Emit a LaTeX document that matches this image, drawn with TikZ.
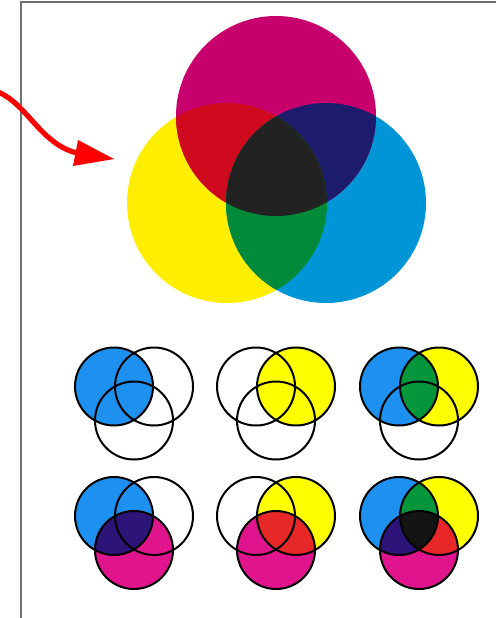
\documentclass[tikz,border=0pt]{standalone}
\definecolor{bM}{HTML}{C8006E}
\definecolor{bY}{HTML}{FFEE00}
\definecolor{bC}{HTML}{0095D6}
\definecolor{bR}{HTML}{D00A1E}
\definecolor{bB}{HTML}{1C1B6C}
\definecolor{bG}{HTML}{008A3A}
\definecolor{bK}{HTML}{222222}
\definecolor{sC}{HTML}{1E90F0}
\definecolor{sY}{HTML}{FFFF00}
\definecolor{sM}{HTML}{E0148C}
\definecolor{sG}{HTML}{05963C}
\definecolor{sB}{HTML}{2C1478}
\definecolor{sR}{HTML}{E82828}
\definecolor{sK}{HTML}{141414}
\definecolor{frame}{HTML}{707070}
\begin{document}
\begin{tikzpicture}[x=1pt,y=-1pt,
  ring/.style={draw=black,line width=2pt},
  framel/.style={draw=frame,line width=1.5pt}]
\useasboundingbox (0,0) rectangle (496,618);
% frame
\draw[framel] (496,2) -- (21,2) -- (21,618);
% big circles
\def\BM{(276,116) circle (100)}
\def\BY{(227,203) circle (100)}
\def\BC{(326,203) circle (100)}
\fill[bY] \BY;
\fill[bC] \BC;
\fill[bM] \BM;
\begin{scope}\clip \BM; \fill[bR] \BY; \fill[bB] \BC; \end{scope}
\begin{scope}\clip \BY; \fill[bG] \BC; \end{scope}
\begin{scope}\clip \BM; \clip \BY; \fill[bK] \BC; \end{scope}
% arrow
\draw[red,line width=5.2pt] (-2,92) .. controls (28,104) and (42,148) .. (82,154);
\fill[red] (78,140) -- (114,159) -- (73,166) -- cycle;
% small groups
\def\SL{(-20,0) circle (39)}
\def\SR{(20,0) circle (39)}
\def\SB{(0,34) circle (39)}
% row 1
\begin{scope}[shift={(134,386.5)}]
  \fill[sC] \SL;
  \draw[ring] \SL; \draw[ring] \SR; \draw[ring] \SB;
\end{scope}
\begin{scope}[shift={(276,386.5)}]
  \fill[sY] \SR;
  \draw[ring] \SL; \draw[ring] \SR; \draw[ring] \SB;
\end{scope}
\begin{scope}[shift={(419,386.5)}]
  \fill[sC] \SL; \fill[sY] \SR;
  \begin{scope}\clip \SL; \fill[sG] \SR; \end{scope}
  \draw[ring] \SL; \draw[ring] \SR; \draw[ring] \SB;
\end{scope}
% row 2
\begin{scope}[shift={(134,516)}]
  \fill[sC] \SL; \fill[sM] \SB;
  \begin{scope}\clip \SL; \fill[sB] \SB; \end{scope}
  \draw[ring] \SL; \draw[ring] \SR; \draw[ring] \SB;
\end{scope}
\begin{scope}[shift={(276,516)}]
  \fill[sY] \SR; \fill[sM] \SB;
  \begin{scope}\clip \SR; \fill[sR] \SB; \end{scope}
  \draw[ring] \SL; \draw[ring] \SR; \draw[ring] \SB;
\end{scope}
\begin{scope}[shift={(419,516)}]
  \fill[sC] \SL; \fill[sY] \SR; \fill[sM] \SB;
  \begin{scope}\clip \SL; \fill[sG] \SR; \fill[sB] \SB; \end{scope}
  \begin{scope}\clip \SR; \fill[sR] \SB; \end{scope}
  \begin{scope}\clip \SL; \clip \SR; \fill[sK] \SB; \end{scope}
  \draw[ring] \SL; \draw[ring] \SR; \draw[ring] \SB;
\end{scope}
\end{tikzpicture}
\end{document}
